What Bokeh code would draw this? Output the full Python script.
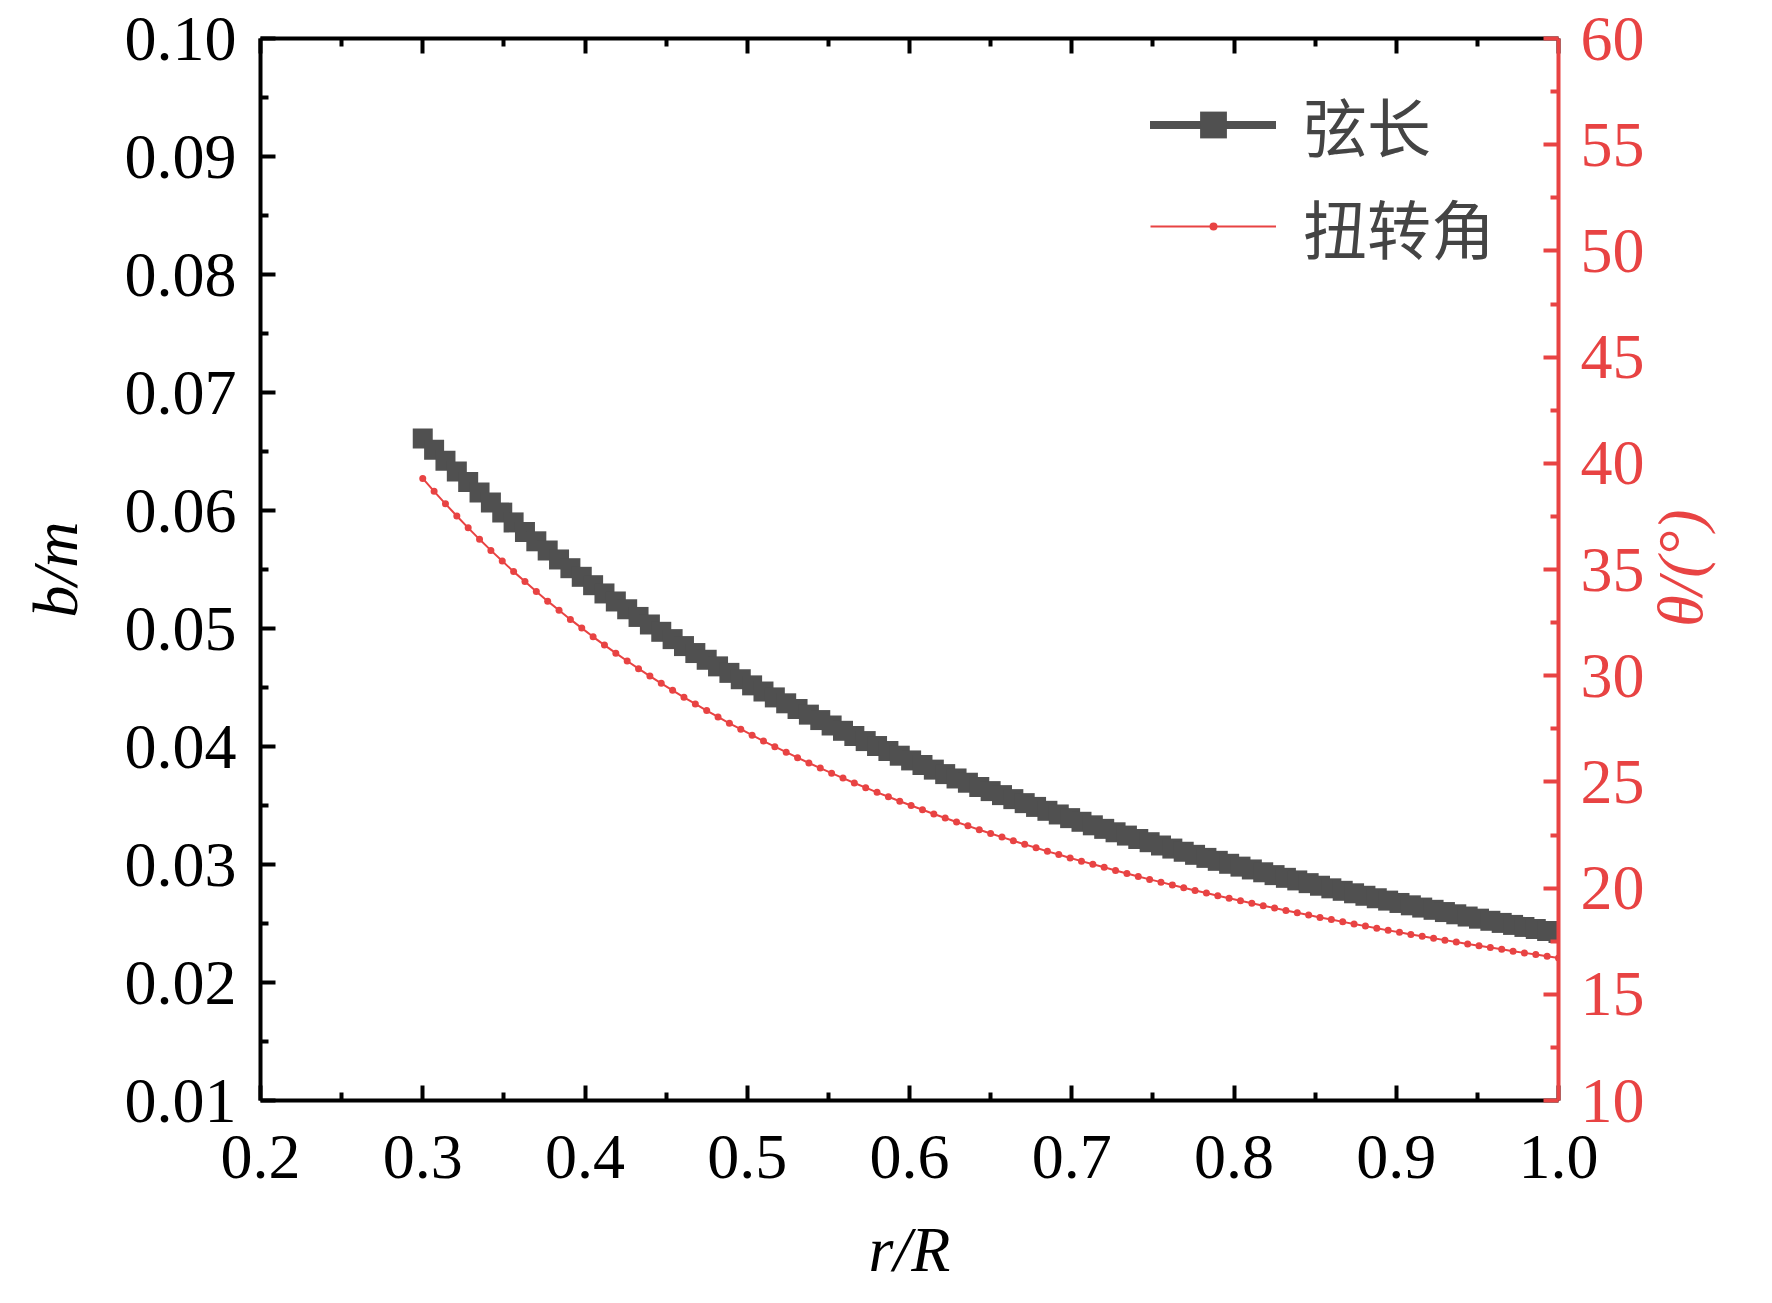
import math
from bokeh.plotting import figure
from bokeh.models import (Range1d, LinearAxis, FixedTicker, PrintfTickFormatter,
                          Legend, LegendItem, ColumnDataSource)
from bokeh.embed import file_html
from bokeh.resources import INLINE

# ---------------- data ----------------
r_over_R = [
    0.300, 0.307, 0.314, 0.321, 0.328, 0.335, 0.342, 0.349, 0.356, 0.363,
    0.370, 0.377, 0.384, 0.391, 0.398, 0.405, 0.412, 0.419, 0.426, 0.433,
    0.440, 0.447, 0.454, 0.461, 0.468, 0.475, 0.482, 0.489, 0.496, 0.503,
    0.510, 0.517, 0.524, 0.531, 0.538, 0.545, 0.552, 0.559, 0.566, 0.573,
    0.580, 0.587, 0.594, 0.601, 0.608, 0.615, 0.622, 0.629, 0.636, 0.643,
    0.650, 0.657, 0.664, 0.671, 0.678, 0.685, 0.692, 0.699, 0.706, 0.713,
    0.720, 0.727, 0.734, 0.741, 0.748, 0.755, 0.762, 0.769, 0.776, 0.783,
    0.790, 0.797, 0.804, 0.811, 0.818, 0.825, 0.832, 0.839, 0.846, 0.853,
    0.860, 0.867, 0.874, 0.881, 0.888, 0.895, 0.902, 0.909, 0.916, 0.923,
    0.930, 0.937, 0.944, 0.951, 0.958, 0.965, 0.972, 0.979, 0.986, 0.993,
    1.000,
]

chord_b = [
    0.06610, 0.06515, 0.06422, 0.06331, 0.06241, 0.06153, 0.06067, 0.05982, 0.05899, 0.05818,
    0.05739, 0.05661, 0.05585, 0.05511, 0.05438, 0.05367, 0.05297, 0.05229, 0.05163, 0.05098,
    0.05034, 0.04972, 0.04910, 0.04851, 0.04792, 0.04735, 0.04679, 0.04624, 0.04570, 0.04518,
    0.04466, 0.04416, 0.04366, 0.04318, 0.04270, 0.04224, 0.04178, 0.04133, 0.04089, 0.04046,
    0.04004, 0.03962, 0.03922, 0.03882, 0.03843, 0.03804, 0.03766, 0.03729, 0.03693, 0.03657,
    0.03622, 0.03588, 0.03554, 0.03520, 0.03488, 0.03455, 0.03424, 0.03393, 0.03362, 0.03332,
    0.03302, 0.03273, 0.03245, 0.03216, 0.03189, 0.03161, 0.03135, 0.03108, 0.03082, 0.03056,
    0.03031, 0.03006, 0.02982, 0.02958, 0.02934, 0.02910, 0.02887, 0.02865, 0.02842, 0.02820,
    0.02798, 0.02777, 0.02756, 0.02735, 0.02714, 0.02694, 0.02674, 0.02654, 0.02635, 0.02616,
    0.02597, 0.02578, 0.02559, 0.02541, 0.02523, 0.02505, 0.02488, 0.02471, 0.02454, 0.02437,
    0.02420,
]

twist_theta = [
    39.29, 38.68, 38.09, 37.52, 36.96, 36.42, 35.90, 35.40, 34.90, 34.43,
    33.96, 33.51, 33.08, 32.65, 32.24, 31.83, 31.44, 31.06, 30.69, 30.33,
    29.98, 29.64, 29.31, 28.98, 28.67, 28.36, 28.06, 27.76, 27.48, 27.20,
    26.92, 26.66, 26.40, 26.14, 25.89, 25.65, 25.41, 25.18, 24.95, 24.73,
    24.51, 24.30, 24.09, 23.89, 23.69, 23.49, 23.30, 23.11, 22.93, 22.75,
    22.57, 22.40, 22.23, 22.06, 21.90, 21.73, 21.58, 21.42, 21.27, 21.12,
    20.98, 20.83, 20.69, 20.55, 20.41, 20.28, 20.15, 20.02, 19.89, 19.77,
    19.64, 19.52, 19.40, 19.29, 19.17, 19.06, 18.95, 18.84, 18.73, 18.62,
    18.52, 18.41, 18.31, 18.21, 18.11, 18.01, 17.92, 17.82, 17.73, 17.64,
    17.55, 17.46, 17.37, 17.29, 17.20, 17.12, 17.03, 16.95, 16.87, 16.79,
    16.71,
]

series_names = ["弦长", "扭转角"]
x_title = "r/R"
y_left_title = "b/m"
y_right_title = "θ/(°)"
y_right_title_start = 32.3   # theta value where the rotated right title begins

x_major_ticks = [0.2, 0.3, 0.4, 0.5, 0.6, 0.7, 0.8, 0.9, 1.0]
x_minor_ticks = [0.25, 0.35, 0.45, 0.55, 0.65, 0.75, 0.85, 0.95]
y_left_ticks = [0.01, 0.02, 0.03, 0.04, 0.05, 0.06, 0.07, 0.08, 0.09, 0.10]
y_left_minor = [0.015, 0.025, 0.035, 0.045, 0.055, 0.065, 0.075, 0.085, 0.095]
y_right_ticks = [10, 15, 20, 25, 30, 35, 40, 45, 50, 55, 60]
y_right_minor = [12.5, 17.5, 22.5, 27.5, 32.5, 37.5, 42.5, 47.5, 52.5, 57.5]

# ---------------- style ----------------
GRAY = "#505050"
RED = "#E84343"
SERIF = "Liberation Serif"
CJK = "Noto Sans CJK SC"
FS = "64px"

W, H = 1756, 1287
p = figure(width=W, height=H, output_backend="svg", toolbar_location=None,
           x_range=Range1d(0.2, 1.0), y_range=Range1d(0.01, 0.10),
           min_border_left=260, min_border_right=198,
           min_border_top=38, min_border_bottom=187)
p.extra_y_ranges = {"theta": Range1d(10, 60)}
p.grid.visible = False
p.outline_line_color = None
p.background_fill_color = "white"
p.border_fill_color = "white"


def style_axis(ax, color, standoff):
    ax.axis_line_width = 4
    ax.axis_line_color = color
    ax.major_tick_line_width = 4
    ax.minor_tick_line_width = 4
    ax.major_tick_line_color = color
    ax.minor_tick_line_color = color
    ax.major_tick_in = 15
    ax.major_tick_out = 0
    ax.minor_tick_in = 8
    ax.minor_tick_out = 0
    ax.major_label_text_font = SERIF
    ax.major_label_text_font_size = FS
    ax.major_label_text_color = color
    ax.major_label_standoff = standoff
    ax.axis_label_text_font = SERIF
    ax.axis_label_text_font_size = FS
    ax.axis_label_text_font_style = "italic"
    ax.axis_label_text_color = color


xb = p.xaxis[0]
xb.ticker = FixedTicker(ticks=x_major_ticks, minor_ticks=x_minor_ticks)
xb.formatter = PrintfTickFormatter(format="%.1f")
style_axis(xb, "black", 35)
xb.axis_label = x_title
xb.axis_label_standoff = 33

yl = p.yaxis[0]
yl.ticker = FixedTicker(ticks=y_left_ticks, minor_ticks=y_left_minor)
yl.formatter = PrintfTickFormatter(format="%.2f")
style_axis(yl, "black", 24)
yl.axis_label = y_left_title
yl.axis_label_standoff = 31

xt = LinearAxis(ticker=FixedTicker(ticks=x_major_ticks, minor_ticks=x_minor_ticks))
style_axis(xt, "black", 0)
xt.major_label_overrides = {t: "" for t in x_major_ticks}
xt.major_label_text_font_size = "1px"
p.add_layout(xt, "above")

yr = LinearAxis(y_range_name="theta",
                ticker=FixedTicker(ticks=y_right_ticks, minor_ticks=y_right_minor),
                formatter=PrintfTickFormatter(format="%d"))
style_axis(yr, RED, 22)
p.add_layout(yr, "right")

# outer right axis that only carries the rotated title (reads bottom to top)
yr_title = LinearAxis(y_range_name="theta",
                      ticker=FixedTicker(ticks=[y_right_title_start], minor_ticks=[]))
style_axis(yr_title, RED, 33)
yr_title.axis_line_color = None
yr_title.major_tick_line_color = None
yr_title.minor_tick_line_color = None
yr_title.major_tick_in = 0
yr_title.minor_tick_in = 0
yr_title.major_label_overrides = {y_right_title_start: y_right_title}
yr_title.major_label_text_font_style = "italic"
yr_title.major_label_orientation = math.pi / 2
p.add_layout(yr_title, "right")

# ---------------- series ----------------
src_b = ColumnDataSource(dict(x=r_over_R, y=chord_b))
src_t = ColumnDataSource(dict(x=r_over_R, y=twist_theta))

lb = p.line("x", "y", source=src_b, line_color=GRAY, line_width=8, line_cap="round")
sb = p.scatter("x", "y", source=src_b, marker="square", size=20,
               fill_color=GRAY, line_color=None)
lt = p.line("x", "y", source=src_t, y_range_name="theta", line_color=RED, line_width=2)
st = p.scatter("x", "y", source=src_t, y_range_name="theta", marker="circle", size=7,
               fill_color=RED, line_color=None)

# ---------------- legends ----------------
common = dict(padding=0, margin=0, spacing=0, border_line_color=None,
              background_fill_alpha=0, label_text_font=CJK, label_text_font_size=FS,
              glyph_width=126, label_standoff=27)
leg1 = Legend(items=[LegendItem(label=series_names[0], renderers=[lb, sb])],
              location=(890, 930), glyph_height=67, **common)
leg2 = Legend(items=[LegendItem(label=series_names[1], renderers=[lt, st])],
              location=(890, 828), glyph_height=20, **common)
p.add_layout(leg1)
p.add_layout(leg2)

open("out.html", "w").write(file_html(p, INLINE))
